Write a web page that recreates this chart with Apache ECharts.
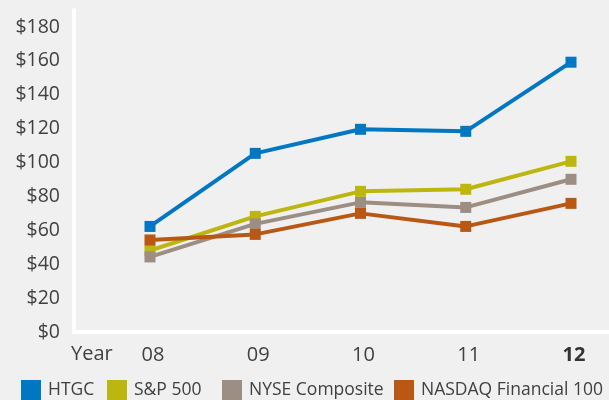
<!DOCTYPE html>
<html>
<head>
<meta charset="utf-8">
<script src="https://cdn.jsdelivr.net/npm/echarts@6/dist/echarts.min.js"></script>
<style>
  html, body { margin: 0; padding: 0; background: #f0f0f0; }
  #chart { width: 609px; height: 400px; }
</style>
</head>
<body>
<div id="chart"></div>
<script>
// years on the x axis (08..12)
var years = [8, 9, 10, 11, 12];
var seriesNames = ['HTGC', 'S&P 500', 'NYSE Composite', 'NASDAQ Financial 100'];
var htgc = [62.3, 105.4, 119.6, 118.4, 159.2];
var sp500 = [48.1, 68.2, 83.0, 84.2, 100.7];
var nyse = [44.3, 63.8, 76.5, 73.5, 90.1];
var nasdaq = [54.3, 57.6, 70.0, 62.3, 75.9];
var colors = ['#0077c2', '#bdb60e', '#9c8e82', '#b95715'];

function pairs(vals) {
  return years.map(function (y, i) { return [y, vals[i]]; });
}

var chart = echarts.init(document.getElementById('chart'));
var font = '"Open Sans", "Noto Sans", sans-serif';
var allData = [htgc, sp500, nyse, nasdaq];
// legend entries are placed like in the original slide
var legendLeft = [21, 107, 222, 394];

var option = {
  backgroundColor: '#f0f0f0',
  animation: false,
  textStyle: { fontFamily: font },
  grid: { left: 74, right: 0, top: 10, bottom: 68 },
  legend: seriesNames.map(function (name, i) {
    return {
      top: 380,
      left: legendLeft[i],
      padding: 0,
      icon: 'rect',
      itemWidth: 20,
      itemHeight: 20,
      textStyle: { fontSize: 17.5, color: '#404040', fontFamily: font, padding: [0, 0, 0, 2] },
      data: [name]
    };
  }),
  xAxis: {
    type: 'value',
    min: 7.278,
    max: 12.361,
    minInterval: 1,
    maxInterval: 1,
    splitLine: { show: false },
    axisTick: { show: false },
    axisLine: { show: true, lineStyle: { color: '#ffffff', width: 4 } },
    axisLabel: {
      showMinLabel: false,
      showMaxLabel: false,
      fontSize: 20,
      color: '#404040',
      margin: 13,
      padding: [0, 0, 0, 6],
      formatter: function (v) {
        if (Math.abs(v - Math.round(v)) > 1e-6) return '';
        var s = (v < 10 ? '0' : '') + Math.round(v);
        return v === 12 ? '{b|' + s + '}' : s;
      },
      rich: { b: { fontWeight: 'bold', fontSize: 20, color: '#333' } }
    }
  },
  yAxis: {
    type: 'value',
    min: 0,
    max: 190,
    interval: 10,
    splitLine: { show: false },
    axisTick: { show: false },
    axisLine: { show: true, lineStyle: { color: '#ffffff', width: 4 } },
    axisLabel: {
      fontSize: 19.5,
      color: '#404040',
      margin: 14,
      padding: [0, 0, 8, 0],
      formatter: function (v) { return v % 20 === 0 && v <= 180 ? '$' + v : ''; }
    }
  },
  graphic: [{
    type: 'text',
    left: 71,
    top: 344,
    style: { text: 'Year', fontSize: 20, fill: '#404040', fontFamily: font }
  }],
  series: seriesNames.map(function (name, i) {
    return {
      name: name,
      type: 'line',
      data: pairs(allData[i]),
      symbol: 'rect',
      symbolSize: 11,
      color: colors[i],
      lineStyle: { width: 4, color: colors[i] },
      itemStyle: { color: colors[i] }
    };
  })
};

chart.setOption(option);
window.addEventListener('resize', function () { chart.resize(); });
</script>
</body>
</html>
